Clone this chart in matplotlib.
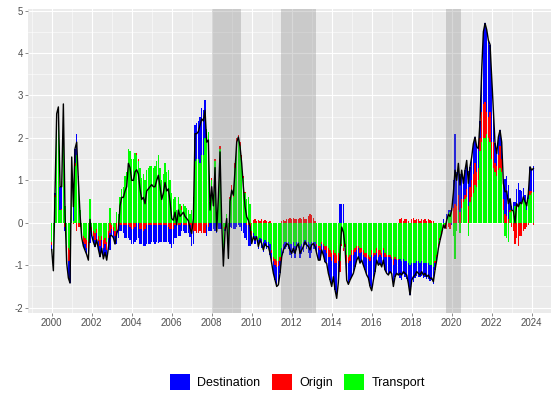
import numpy as np
import matplotlib
matplotlib.use("Agg")
import matplotlib.pyplot as plt
from matplotlib.patches import Patch
from matplotlib.ticker import MultipleLocator

plt.rcParams['font.family'] = ['Liberation Sans', 'DejaVu Sans']
plt.rcParams['axes.unicode_minus'] = False

# Monthly contributions, January 2000 onwards (one row per year)
transport = [
    -0.45, -0.7, 0.6, 2.2, 2.3, 0.3, 0.3, 2.45, 0.4, -0.55, -0.6, -0.65,
    1.15, 0.05, 1.35, 1.6, 0.9, 0.3, -0.2, -0.3, -0.35, -0.4, -0.45, 0.55,
    -0.1, -0.2, -0.25, -0.15, -0.3, -0.4, -0.3, -0.4, -0.35, -0.45, -0.2, 0.35,
    -0.05, -0.1, -0.2, 0.25, 0.2, 0.6, 0.8, 0.85, 1.1, 1.2, 1.75, 1.7,
    1.5, 1.5, 1.65, 1.6, 1.45, 1.3, 1.05, 1.15, 1.0, 1.25, 1.3, 1.35,
    1.35, 1.3, 1.35, 1.45, 1.6, 1.3, 1.0, 1.15, 1.4, 1.2, 1.25, 1.0,
    0.7, 0.55, 0.6, 0.3, 0.6, 0.45, 0.3, 0.45, 0.4, 0.35, 0.3, 0.2,
    0.3, 0.6, 1.45, 1.5, 1.5, 1.4, 1.6, 1.6, 2.0, 2.2, 2.15, 0.5,
    1.0, 0.55, 1.45, 0.05, 0.75, 1.75, 0.15, -0.7, -0.1, 0.2, -0.55, 0.55,
    0.7, 0.6, 1.3, 1.85, 1.95, 1.8, 1.5, 1.05, 0.7, 0.55, 0.6, 0.45,
    -0.2, -0.25, -0.3, -0.3, -0.4, -0.35, -0.38, -0.45, -0.4, -0.45, -0.45, -0.5,
    -0.65, -0.8, -0.85, -0.9, -0.9, -0.8, -0.6, -0.5, -0.45, -0.45, -0.45, -0.5,
    -0.5, -0.45, -0.55, -0.45, -0.45, -0.55, -0.5, -0.45, -0.4, -0.45, -0.45, -0.5,
    -0.45, -0.45, -0.45, -0.5, -0.55, -0.55, -0.45, -0.5, -0.55, -0.55, -0.6, -0.65,
    -0.7, -0.65, -0.7, -0.75, -0.7, -0.9, -0.5, -0.6, -0.5, -0.75, -0.8, -0.75,
    -0.65, -0.65, -0.6, -0.55, -0.55, -0.6, -0.6, -0.65, -0.7, -0.7, -0.75, -0.8,
    -0.65, -0.7, -0.7, -0.6, -0.65, -0.65, -0.7, -0.6, -0.7, -0.75, -0.75, -0.75,
    -0.8, -0.85, -0.8, -0.85, -0.85, -0.85, -0.9, -0.85, -0.9, -0.9, -0.95, -1.0,
    -0.95, -0.95, -0.95, -0.9, -0.9, -0.95, -0.9, -0.95, -0.95, -0.95, -0.95, -1.0,
    -1.0, -1.05, -0.9, -0.75, -0.5, -0.35, -0.2, -0.1, -0.05, 0.1, 0.2, 0.25,
    0.25, -0.3, -0.86, -0.2, 0.3, -0.25, 0.35, 0.5, 0.55, 0.6, -0.3, 0.5,
    0.6, 0.7, 0.9, 0.85, 1.0, 1.7, 1.9, 2.0, 2.0, 2.1, 2.0, 1.9,
    1.5, 1.3, 1.2, 1.1, 1.25, 1.3, 1.2, 0.3, -0.3, -0.35, -0.45, 0.25,
    0.3, 0.3, 0.4, 0.45, 0.4, 0.45, 0.5, 0.55, 0.5, 0.3, 0.55, 0.65,
    0.7, 0.72,
]

origin = [
    -0.08, -0.2, 0.05, 0.12, 0.1, 0.0, 0.02, 0.05, -0.1, -0.2, -0.3, -0.25,
    0.0, -0.02, 0.05, -0.2, -0.1, -0.1, -0.1, -0.15, -0.15, -0.2, -0.2, -0.2,
    -0.1, -0.1, -0.15, -0.1, -0.12, -0.15, -0.1, -0.2, -0.15, -0.18, -0.15, -0.25,
    -0.1, -0.1, -0.12, -0.2, -0.1, -0.05, -0.05, -0.05, -0.05, -0.05, -0.05, -0.1,
    -0.15, -0.15, -0.1, 0.05, 0.05, -0.15, -0.15, -0.2, -0.15, -0.05, -0.05, -0.05,
    -0.05, -0.05, -0.05, -0.05, -0.05, -0.05, -0.05, -0.05, -0.05, -0.05, -0.1, -0.15,
    -0.15, -0.15, -0.05, -0.05, -0.05, -0.05, 0.1, -0.05, -0.05, -0.05, -0.05, -0.05,
    -0.2, -0.2, -0.2, -0.25, -0.25, -0.2, -0.25, -0.25, -0.25, -0.05, -0.1, 0.0,
    0.05, 0.0, 0.05, -0.05, 0.0, 0.07, -0.05, -0.12, -0.05, 0.0, -0.15, 0.05,
    0.2, 0.2, 0.1, 0.15, 0.12, 0.1, 0.1, 0.05, 0.03, -0.05, -0.04, -0.1,
    -0.1, 0.06, 0.08, 0.05, 0.06, 0.04, 0.1, 0.04, 0.06, 0.05, 0.03, 0.04,
    -0.06, -0.1, -0.15, -0.15, -0.12, -0.1, 0.04, 0.06, 0.05, 0.08, 0.1, 0.12,
    0.1, 0.12, 0.1, 0.08, 0.1, 0.12, 0.1, 0.13, 0.08, 0.1, 0.15, 0.2,
    0.18, 0.12, 0.05, -0.05, -0.05, -0.1, -0.04, -0.05, -0.1, -0.15, -0.2, -0.15,
    -0.2, -0.12, -0.25, -0.2, -0.2, -0.25, -0.05, -0.07, -0.06, -0.2, -0.15, -0.15,
    -0.1, -0.1, -0.08, -0.1, -0.05, -0.1, -0.08, -0.1, -0.1, -0.12, -0.1, -0.1,
    -0.1, -0.1, -0.05, -0.1, -0.15, -0.1, -0.1, -0.05, -0.1, -0.05, -0.05, -0.05,
    -0.05, -0.15, -0.05, -0.03, -0.03, 0.1, 0.12, 0.05, 0.08, 0.1, 0.05, 0.0,
    0.08, 0.12, 0.06, 0.1, 0.08, 0.05, 0.1, 0.06, 0.08, 0.05, 0.1, 0.06,
    0.05, 0.04, -0.05, -0.05, -0.05, -0.05, -0.04, -0.03, -0.05, -0.15, -0.1, -0.15,
    0.1, 0.35, 0.45, 0.4, 0.35, 0.25, 0.2, 0.05, 0.1, 0.2, 0.4, 0.35,
    0.4, 0.45, 0.5, 0.35, 0.3, 0.3, 0.7, 0.8, 0.85, 0.5, 0.5, 0.7,
    0.4, 0.6, 0.2, 0.25, 0.35, 0.5, 0.3, 0.25, 0.2, 0.15, 0.1, 0.05,
    -0.1, -0.2, -0.5, -0.35, -0.55, -0.3, -0.3, -0.2, -0.15, -0.1, -0.05, 0.1,
    0.05, -0.05,
]

destination = [
    -0.1, -0.23, 0.05, 0.25, 0.33, 0.55, 0.53, 0.3, -0.1, -0.2, -0.4, -0.52,
    0.4, 0.35, 0.35, 0.5, 0.2, 0.0, -0.05, -0.1, -0.15, -0.15, -0.23, -0.27,
    -0.1, -0.15, -0.16, -0.15, -0.2, -0.25, -0.2, -0.25, -0.2, -0.25, -0.25, -0.4,
    -0.15, -0.15, -0.18, -0.3, -0.25, -0.15, -0.15, -0.2, -0.3, -0.3, -0.3, -0.3,
    -0.35, -0.35, -0.35, -0.4, -0.35, -0.35, -0.35, -0.35, -0.4, -0.45, -0.45, -0.45,
    -0.4, -0.4, -0.45, -0.4, -0.43, -0.4, -0.4, -0.4, -0.4, -0.4, -0.35, -0.35,
    -0.45, -0.34, -0.3, -0.3, -0.25, -0.25, -0.2, -0.15, -0.2, -0.2, -0.2, -0.28,
    -0.35, -0.3, 0.85, 0.85, 0.9, 1.1, 1.1, 1.05, 0.9, -0.25, -0.1, -0.2,
    -0.2, -0.15, -0.2, -0.2, -0.15, -0.15, -0.1, -0.2, -0.05, -0.1, -0.14, -0.1,
    -0.13, -0.15, -0.15, -0.1, -0.05, -0.1, -0.2, -0.25, -0.35, -0.36, -0.5, -0.44,
    -0.19, -0.14, -0.19, -0.08, -0.22, -0.1, -0.21, -0.23, -0.15, -0.16, -0.14, -0.26,
    -0.25, -0.29, -0.35, -0.45, -0.44, -0.29, -0.24, -0.2, -0.16, -0.12, -0.17, -0.26,
    -0.32, -0.27, -0.27, -0.19, -0.14, -0.29, -0.24, -0.24, -0.13, -0.17, -0.26, -0.34,
    -0.25, -0.16, -0.16, -0.17, -0.28, -0.23, -0.15, -0.21, -0.27, -0.26, -0.39, -0.55,
    -0.6, -0.5, -0.63, -0.83, -0.5, 0.45, 0.45, 0.45, 0.0, -0.4, -0.5, -0.45,
    -0.52, -0.44, -0.36, -0.23, -0.2, -0.25, -0.2, -0.25, -0.31, -0.41, -0.45, -0.6,
    -0.85, -0.55, -0.4, -0.18, -0.2, -0.2, -0.24, -0.23, -0.31, -0.39, -0.43, -0.35,
    -0.35, -0.5, -0.42, -0.31, -0.35, -0.44, -0.45, -0.35, -0.37, -0.43, -0.53, -0.7,
    -0.48, -0.44, -0.34, -0.35, -0.37, -0.33, -0.35, -0.34, -0.32, -0.37, -0.38, -0.37,
    -0.35, -0.38, -0.16, -0.08, -0.05, -0.01, -0.01, 0.08, -0.03, 0.11, 0.1, 0.05,
    -0.05, 0.65, 1.65, 0.8, 0.75, 0.89, 0.69, 0.38, 0.59, 0.67, 0.83, 0.47,
    0.55, 0.72, 0.62, 0.59, 0.45, 0.4, 1.0, 1.7, 1.85, 1.95, 1.8, 1.6,
    1.55, 0.75, 0.47, 0.28, 0.42, 0.38, 0.4, 0.38, 0.83, 0.95, 0.8, 0.27,
    0.1, 0.18, 0.1, 0.35, 0.53, 0.33, 0.25, 0.26, 0.15, 0.2, 0.19, 0.57,
    0.49, 0.61,
]

start_year = 2000
recessions = [(2008.0, 2009.47), (2011.46, 2013.2), (2019.72, 2020.45)]

series = [
    ("Transport", transport, "#00FF00"),
    ("Origin", origin, "#FF0000"),
    ("Destination", destination, "#0000FF"),
]

n = len(transport)
x = start_year + np.arange(n) / 12.0

W, H = 553, 397
fig = plt.figure(figsize=(W / 72, H / 72), dpi=72)
ax = fig.add_axes([28 / W, 1 - 313 / H, (551 - 28) / W, (313 - 9.3) / H])
ax.set_facecolor("#EBEBEB")

# stacked bars: positives build upward, negatives downward
pos = np.zeros(n)
neg = np.zeros(n)
for name, vals, col in series:
    v = np.asarray(vals, dtype=float)
    bottom = np.where(v >= 0, pos, neg)
    ax.bar(x, v, bottom=bottom, width=0.9 / 12, color=col, linewidth=0, zorder=2)
    pos = pos + np.where(v >= 0, v, 0)
    neg = neg + np.where(v < 0, v, 0)

total = np.sum([np.asarray(s[1], dtype=float) for s in series], axis=0)

for a, b in recessions:
    ax.axvspan(a, b, color="#808080", alpha=0.3, lw=0, zorder=3)

ax.plot(x, total, color="black", lw=1.4, zorder=4)

ax.set_xlim(1998.815, 2024.965)
ax.set_ylim(-2.125, 5.03)
ax.set_xticks(np.arange(2000, 2025, 2))
ax.xaxis.set_minor_locator(MultipleLocator(1))
ax.set_yticks(np.arange(-2, 6, 1))
ax.yaxis.set_minor_locator(MultipleLocator(0.5))
ax.grid(which="major", color="white", lw=1.1, zorder=0)
ax.grid(which="minor", color="white", lw=0.55, zorder=0)
ax.set_axisbelow(True)
for s in ax.spines.values():
    s.set_visible(False)
ax.tick_params(which="major", length=2.75, width=0.55, color="#333333",
               labelsize=9.6, labelcolor="#4D4D4D", pad=2.2)
ax.tick_params(which="minor", length=0)

handles = [Patch(facecolor=c, edgecolor="none") for _, _, c in series[::-1]]
labels = [nm for nm, _, _ in series[::-1]]
fig.legend(handles, labels, loc="center", bbox_to_anchor=(297.5 / W, 1 - 382 / H),
           ncol=3, frameon=False, fontsize=12.5, handlelength=1.6,
           handleheight=1.6, handletextpad=0.6, columnspacing=0.9)

fig.savefig("out.png", dpi=72)
